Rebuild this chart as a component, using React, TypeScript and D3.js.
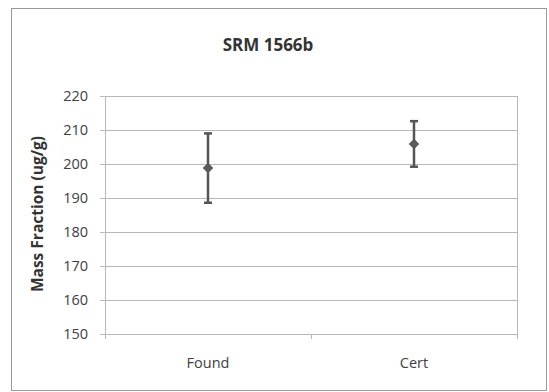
import React, { useEffect, useRef } from "react";
import * as d3 from "d3";

const categories = ["Found", "Cert"];
const values = [198.8, 205.9];
const errors = [10.2, 6.7];
const yTicks = [150, 160, 170, 180, 190, 200, 210, 220];
const title = "SRM 1566b";
const yTitle = "Mass Fraction (ug/g)";

const App = () => {
  const ref = useRef<SVGSVGElement>(null);

  useEffect(() => {
    const svg = d3.select(ref.current);
    svg.selectAll("*").remove();

    const width = 549;
    const height = 392;
    const m = { left: 105, right: 517, top: 96, bottom: 334 };
    const font = "'Open Sans', 'Liberation Sans', sans-serif";

    svg.append("rect").attr("width", width).attr("height", height).attr("fill", "#fff");

    // outer chart frame
    svg
      .append("rect")
      .attr("x", 11.5)
      .attr("y", 8.5)
      .attr("width", 535)
      .attr("height", 382)
      .attr("fill", "#fff")
      .attr("stroke", "#9a9a9a")
      .attr("stroke-width", 1);

    const x = d3.scaleBand().domain(categories).range([m.left, m.right]);
    const y = d3.scaleLinear().domain([150, 220]).range([m.bottom, m.top]);

    // gridlines
    svg
      .selectAll(".grid")
      .data(yTicks)
      .enter()
      .append("line")
      .attr("x1", m.left - 5)
      .attr("x2", m.right)
      .attr("y1", (d) => y(d) + 0.5)
      .attr("y2", (d) => y(d) + 0.5)
      .attr("stroke", "#b8b8b8")
      .attr("stroke-width", 1);

    // plot border
    svg
      .append("rect")
      .attr("x", m.left + 0.5)
      .attr("y", m.top + 0.5)
      .attr("width", m.right - m.left)
      .attr("height", m.bottom - m.top)
      .attr("fill", "none")
      .attr("stroke", "#b8b8b8");

    // category tick marks
    const bounds = [m.left, m.left + x.bandwidth(), m.right];
    svg
      .selectAll(".xtick")
      .data(bounds)
      .enter()
      .append("line")
      .attr("x1", (d) => d + 0.5)
      .attr("x2", (d) => d + 0.5)
      .attr("y1", m.bottom)
      .attr("y2", m.bottom + 5)
      .attr("stroke", "#b8b8b8");

    // y tick labels
    svg
      .selectAll(".ylab")
      .data(yTicks)
      .enter()
      .append("text")
      .attr("x", 88)
      .attr("y", (d) => y(d))
      .attr("dy", "0.36em")
      .attr("text-anchor", "end")
      .attr("font-family", font)
      .attr("font-size", 14.5)
      .attr("fill", "#404040")
      .text((d) => d);

    // x labels
    svg
      .selectAll(".xlab")
      .data(categories)
      .enter()
      .append("text")
      .attr("x", (d) => (x(d) as number) + x.bandwidth() / 2)
      .attr("y", 363)
      .attr("dy", "0.36em")
      .attr("text-anchor", "middle")
      .attr("font-family", font)
      .attr("font-size", 14.5)
      .attr("fill", "#404040")
      .text((d) => d);

    // title
    svg
      .append("text")
      .attr("x", 268)
      .attr("y", 45)
      .attr("dy", "0.36em")
      .attr("text-anchor", "middle")
      .attr("font-family", font)
      .attr("font-size", 17)
      .attr("font-weight", "bold")
      .attr("fill", "#333")
      .text(title);

    // y title
    svg
      .append("text")
      .attr("transform", `translate(37,${(m.top + m.bottom) / 2 - 1}) rotate(-90)`)
      .attr("dy", "0.36em")
      .attr("text-anchor", "middle")
      .attr("font-family", font)
      .attr("font-size", 15.5)
      .attr("font-weight", "bold")
      .attr("fill", "#333")
      .text(yTitle);

    const pts = categories.map((c, i) => ({ c, v: values[i], e: errors[i] }));
    const cx = (c: string) => (x(c) as number) + x.bandwidth() / 2;

    // error bars
    const g = svg.append("g").attr("stroke", "#555").attr("stroke-width", 2.5);
    pts.forEach((p) => {
      g.append("line")
        .attr("x1", cx(p.c))
        .attr("x2", cx(p.c))
        .attr("y1", y(p.v - p.e))
        .attr("y2", y(p.v + p.e));
      [p.v - p.e, p.v + p.e].forEach((v) => {
        g.append("line")
          .attr("x1", cx(p.c) - 4)
          .attr("x2", cx(p.c) + 4)
          .attr("y1", y(v))
          .attr("y2", y(v));
      });
    });

    // markers - square turned 45deg, like Excel's diamond
    svg
      .selectAll(".pt")
      .data(pts)
      .enter()
      .append("path")
      .attr("d", d3.symbol().type(d3.symbolSquare).size(56))
      .attr("transform", (d) => `translate(${cx(d.c)},${y(d.v)}) rotate(45)`)
      .attr("fill", "#5a5a5a");
  }, []);

  return <svg ref={ref} width={549} height={392} style={{ position: "absolute", left: 0, top: 0 }}></svg>;
};

export default App;
